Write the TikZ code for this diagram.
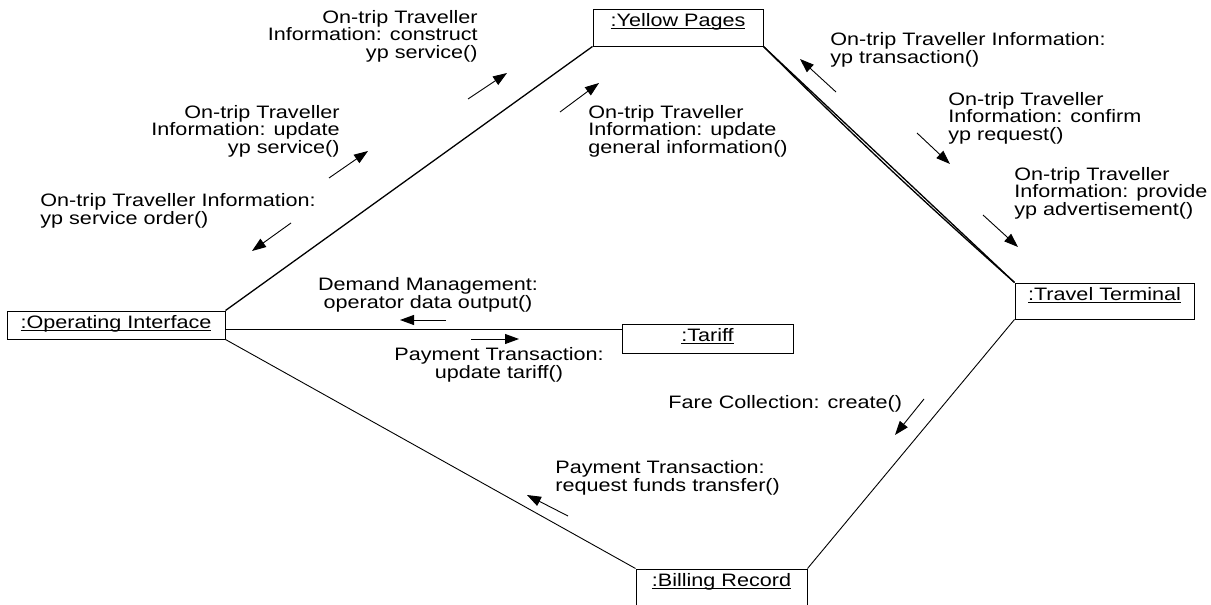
\documentclass[tikz,border=0pt]{standalone}
\usepackage{fontspec}
\setmainfont{Liberation Sans}[FakeStretch=1.2]
\usetikzlibrary{arrows.meta}

\newsavebox\objbox
\newcommand\objname[1]{\sbox\objbox{#1}\rlap{\rule[-1.3pt]{\wd\objbox}{0.45pt}}\usebox\objbox}

\begin{document}
\begin{tikzpicture}[x=0.5pt, y=-0.5pt,
    every node/.style={font=\fontsize{9}{8.75}\selectfont},
    obj/.style={draw, line width=0.5pt, inner sep=0pt, text height=8.5pt},
    lbl/.style={inner sep=0pt},
    link/.style={line width=0.65pt},
    msg/.style={line width=0.45pt, -{Triangle[length=7pt,width=5pt]}}]

    \useasboundingbox (0,0) rectangle (1211,605);

    % Objects
    \node[obj, minimum width=85pt, text depth=10pt] (yp) at (678,27.5) {\objname{:Yellow Pages}};
    \node[obj, minimum width=109pt, text depth=5.5pt] (oi) at (116,325) {\objname{:Operating Interface}};
    \node[obj, minimum width=89.5pt, text depth=9.5pt] (tt) at (1104.5,301) {\objname{:Travel Terminal}};
    \node[obj, minimum width=85.5pt, text depth=6pt] (tariff) at (707.5,338.5) {\objname{:Tariff}};
    \node[obj, minimum width=85.5pt, text depth=11.5pt] (br) at (721.5,589) {\objname{:Billing Record}};

    % Links
    \draw[link] (oi.north east) -- (yp.south west);
    \draw[link] (yp.south east) -- (tt.north west);
    \draw[link] (yp.south east) to[bend right=1.5] (tt.north west);
    \draw[link] ([yshift=-2.25pt]oi.east) -- ([yshift=-2.25pt]oi.east -| tariff.west);
    \draw[line width=0.45pt] (oi.south east) -- (br.north west);
    \draw[line width=0.45pt] (tt.south west) -- (br.north east);

    % Messages
    \node[lbl, anchor=east, align=right] (construct) at (478,36)
        {On-trip Traveller\\Information: construct\\yp service()};
    \node[lbl, anchor=east, align=right] (update) at (340,131)
        {On-trip Traveller\\Information: update\\yp service()};
    \node[lbl, anchor=west, align=left] (order) at (40,211)
        {On-trip Traveller Information:\\yp service order()};
    \node[lbl, anchor=west, align=left] (general) at (588,131)
        {On-trip Traveller\\Information: update\\general information()};
    \node[lbl, anchor=west, align=left] (transaction) at (830,50)
        {On-trip Traveller Information:\\yp transaction()};
    \node[lbl, anchor=west, align=left] (confirm) at (948,118)
        {On-trip Traveller\\Information: confirm\\yp request()};
    \node[lbl, anchor=west, align=left] (provide) at (1014,193)
        {On-trip Traveller\\Information: provide\\yp advertisement()};
    \node[lbl, align=center] (demand) at (428,295)
        {Demand Management:\\operator data output()};
    \node[lbl, align=center] (tariffmsg) at (499,365)
        {Payment Transaction:\\update tariff()};
    \node[lbl, anchor=west] (fare) at (668,404) {Fare Collection: create()};
    \node[lbl, anchor=west, align=left] (funds) at (555,478)
        {Payment Transaction:\\request funds transfer()};

    % Message arrows
    \foreach \nm/\sx/\sy/\ex/\ey in {construct/468/99/507/73, general/560/112/599/83,
        update/329/178/368/151, order/291/223/252/251, transaction/836/92/800/59,
        confirm/917/133/950/164, provide/983/215/1018/247, demand/446/320/400/320,
        tariffmsg/471/339/519/339, fare/924/399/895/435, funds/568/516/527/495}{
        \coordinate (\nm-tail) at (\sx,\sy);
        \coordinate (\nm-head) at (\ex,\ey);
        \draw[msg] (\nm-tail) -- (\nm-head);
    }

\end{tikzpicture}
\end{document}
